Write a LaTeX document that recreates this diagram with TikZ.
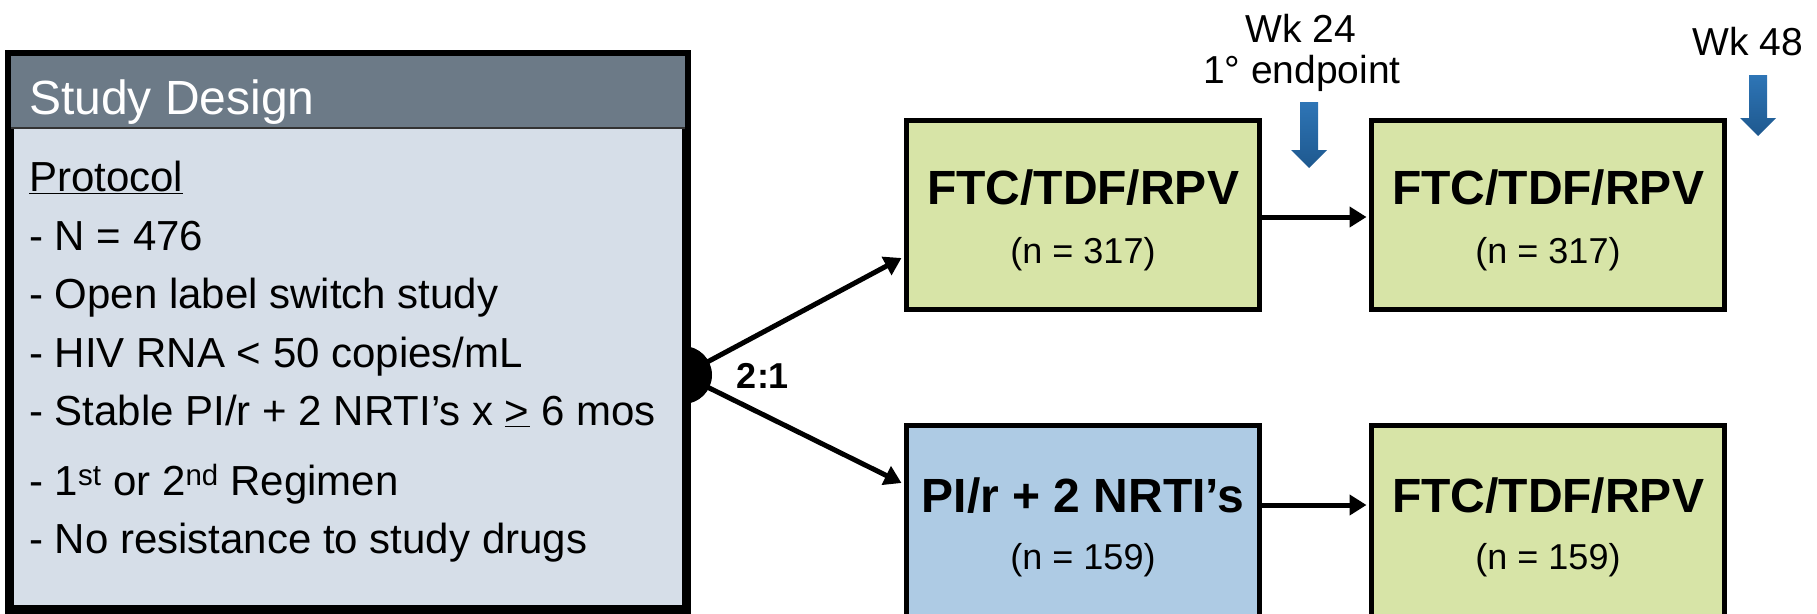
\documentclass[tikz,border=0pt]{standalone}
\usepackage{fontspec}
\setmainfont{Liberation Sans}
\usetikzlibrary{arrows.meta,calc,shadows}
\definecolor{hdr}{RGB}{108,122,135}
\definecolor{bodyc}{RGB}{214,222,232}
\definecolor{greenc}{RGB}{215,228,167}
\definecolor{bluec}{RGB}{174,203,228}
\definecolor{arrtop}{RGB}{46,117,182}
\definecolor{arrbot}{RGB}{30,88,142}
\begin{document}
\begin{tikzpicture}[x=1pt,y=-1pt,
  armbox/.style={draw=black, line width=5pt, minimum width=353pt, minimum height=189pt, inner sep=0pt},
  lowbox/.style={armbox, minimum height=192pt},
  drug/.style={font=\fontsize{48}{56}\selectfont\bfseries, inner sep=0pt, anchor=base},
  count/.style={font=\fontsize{36}{42}\selectfont, inner sep=0pt, anchor=base},
  bodytxt/.style={font=\fontsize{42}{50}\selectfont, inner sep=0pt, anchor=base west},
  weektxt/.style={font=\fontsize{39}{46}\selectfont, inner sep=0pt, anchor=base},
  conn/.style={line width=5pt, -{Triangle[length=17pt,width=20pt]}},
  leftbox/.style={draw=black, fill=bodyc, line width=6pt, minimum width=674pt, minimum height=552pt, inner sep=0pt,
    drop shadow={shadow xshift=5pt, shadow yshift=-5pt, fill=black!45, opacity=.6}},
  bluearrow/.style={top color=arrtop, bottom color=arrbot}
]
\useasboundingbox (0,0) rectangle (1817,613);

% arm boxes
\node[armbox, fill=greenc] (b1) at (1083,215) {};
\node[armbox, fill=greenc] (b2) at (1548,215) {};
\node[lowbox, fill=bluec] (b3) at (1083,521.5) {};
\node[lowbox, fill=greenc] (b4) at (1548,521.5) {};

\node[drug] (t1) at ($(b1.north)+(0,86)$) {FTC/TDF/RPV};
\node[count] (n1) at ($(b1.north)+(0,145)$) {(n = 317)};
\node[drug] (t2) at ($(b2.north)+(0,86)$) {FTC/TDF/RPV};
\node[count] (n2) at ($(b2.north)+(0,145)$) {(n = 317)};
\node[drug] (t3) at ($(b3.north)+(0,89)$) {PI/r + 2 NRTI’s};
\node[count] (n3) at ($(b3.north)+(0,146)$) {(n = 159)};
\node[drug] (t4) at ($(b4.north)+(0,89)$) {FTC/TDF/RPV};
\node[count] (n4) at ($(b4.north)+(0,146)$) {(n = 159)};

\draw[conn] ($(b1.east)+(0,2)$) -- ($(b2.west)+(-2.5,2)$);
\draw[conn] ($(b3.north east)+(0,82)$) -- ($(b4.north west)+(-2.5,82)$);

% split disk and arms
\node[circle, fill=black, minimum size=58pt, inner sep=0pt] (disk) at (683,375) {};
\draw[conn] (disk.center) -- ($(b1.west)+(-2.5,43)$);
\draw[conn] (disk.center) -- ($(b3.west)+(-2.5,-38.5)$);
\node[font=\fontsize{36}{42}\selectfont\bfseries, inner sep=0pt] (ratio) at (763,376) {2:1};

% study design box
\node[leftbox] (design) at (348,332) {};
\fill[hdr] (design.north west) rectangle ($(design.north east)+(0,75)$);
\draw[line width=2pt, black!80] ($(design.north west)+(0,75)$) -- ($(design.north east)+(0,75)$);
\draw[line width=6pt] (design.north west) rectangle (design.south east);

\node[font=\fontsize{48}{56}\selectfont, text=white, inner sep=0pt, anchor=base west] (title) at (29,114) {Study Design};
\node[bodytxt] (l1) at (29,191) {\underline{Protocol}};
\node[bodytxt] (l2) at (29,250) {- N = 476};
\node[bodytxt] (l3) at (29,308) {- Open label switch study};
\node[bodytxt] (l4) at (29,367) {- HIV RNA < 50 copies/mL};
\node[bodytxt] (l5) at (29,425) {- Stable PI/r + 2 NRTI’s x \underline{>} 6 mos};
\node[bodytxt] (l6) at (29,495) {- 1\textsuperscript{st} or 2\textsuperscript{nd} Regimen};
\node[bodytxt] (l7) at (29,553) {- No resistance to study drugs};

% timepoints
\node[weektxt] (w24) at (1301,42) {Wk 24};
\node[weektxt] (endp) at (1302,83) {1° endpoint};
\node[weektxt] (w48) at (1748,55) {Wk 48};
\shade[bluearrow] (1300,102) -- (1318,102) -- (1318,150) -- (1327,150) -- (1309,168) -- (1291,150) -- (1300,150) -- cycle;
\shade[bluearrow] (1749,75) -- (1767,75) -- (1767,118) -- (1776,118) -- (1758,136) -- (1740,118) -- (1749,118) -- cycle;
\end{tikzpicture}
\end{document}
